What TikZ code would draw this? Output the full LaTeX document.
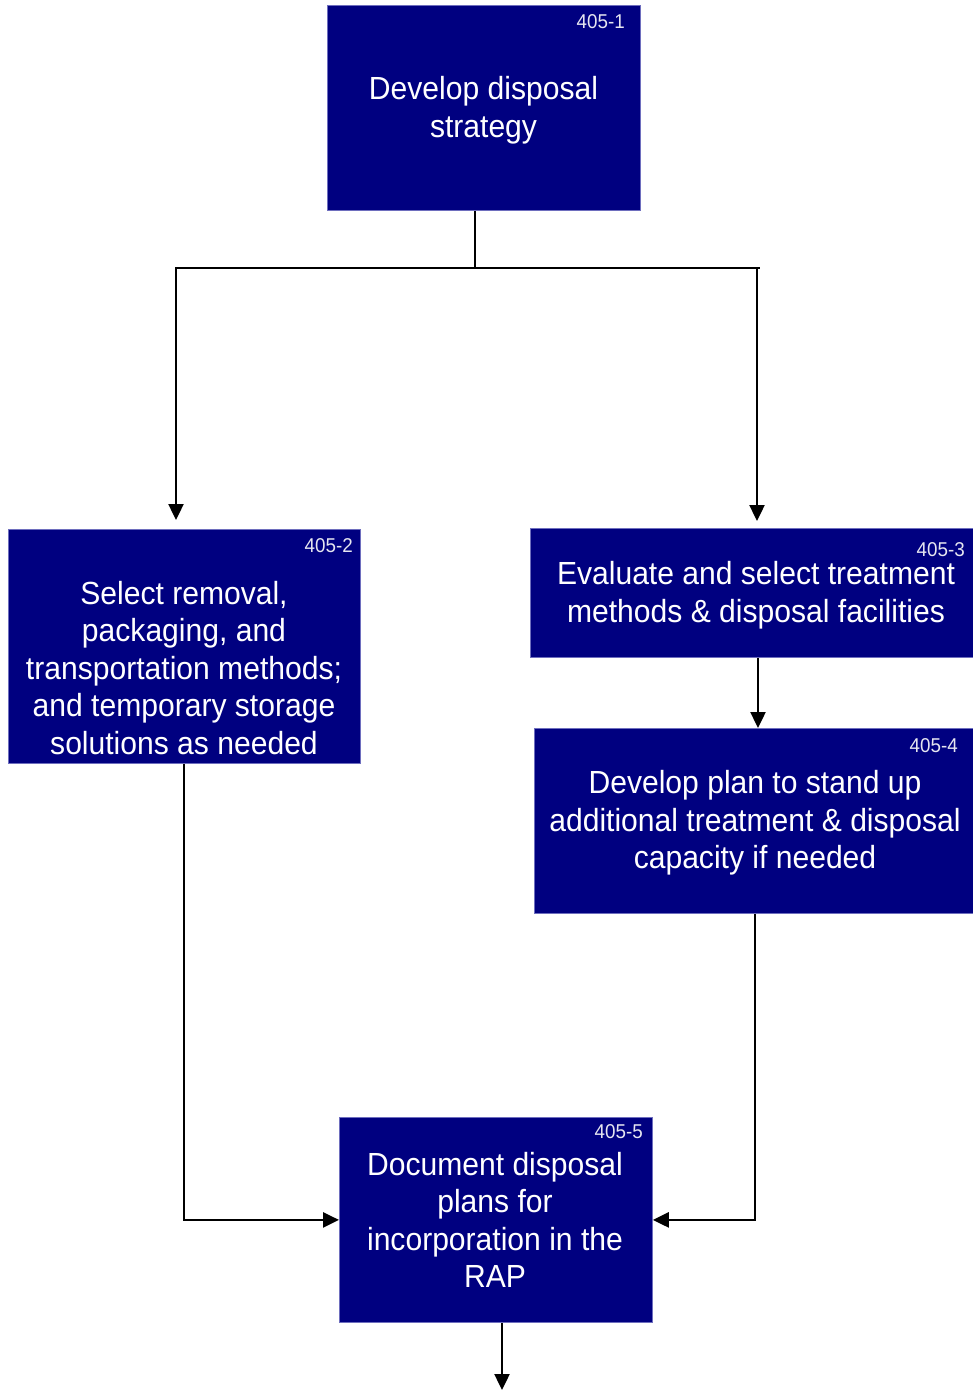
\documentclass[tikz,border=0pt]{standalone}
\usepackage{fontspec}
\setmainfont{Liberation Sans}[FakeStretch=0.94]
\usetikzlibrary{arrows.meta}
\definecolor{boxnavy}{RGB}{0,0,128}
\definecolor{boxedge}{RGB}{110,110,190}
\definecolor{tagwhite}{RGB}{230,230,240}
\begin{document}
\begin{tikzpicture}[x=1pt,y=-1pt,
  stepbox/.style={rectangle, fill=boxnavy, draw=boxedge, line width=0.8pt, inner sep=0pt, anchor=north west},
  boxtext/.style={text=white, align=center, inner sep=0pt, font=\fontsize{32}{37.5}\selectfont},
  tag/.style={text=tagwhite, inner sep=0pt, anchor=east, font=\fontsize{20}{22}\selectfont},
  link/.style={draw=black, line width=2.4pt},
  arr/.style={link, -{Triangle[width=15pt,length=16pt]}}]
\useasboundingbox (0,0) rectangle (973,1392);
\fill[white] (0,0) rectangle (973,1392);

% process boxes
\node[stepbox, minimum width=313pt, minimum height=205pt] (b1) at (327,5) {};
\node[stepbox, minimum width=352pt, minimum height=234pt] (b2) at (8,529) {};
\node[stepbox, minimum width=445pt, minimum height=129pt] (b3) at (530,528) {};
\node[stepbox, minimum width=441pt, minimum height=185pt] (b4) at (534,728) {};
\node[stepbox, minimum width=313pt, minimum height=205pt] (b5) at (339,1117) {};

% step numbers
\node[tag] (n1) at (625,22) {405-1};
\node[tag] (n2) at (353,546) {405-2};
\node[tag] (n3) at (965,550) {405-3};
\node[tag] (n4) at (958,746) {405-4};
\node[tag] (n5) at (643,1132) {405-5};

% box captions
\node[boxtext] (t1) at (483.5,110) {Develop disposal\\strategy};
\node[boxtext] (t2) at (184,668) {Select removal,\\packaging, and\\transportation methods;\\and temporary storage\\solutions as needed};
\node[boxtext] (t3) at (756,595) {Evaluate and select treatment\\methods \& disposal facilities};
\node[boxtext] (t4) at (755,823) {Develop plan to stand up\\additional treatment \& disposal\\capacity if needed};
\node[boxtext] (t5) at (495,1220) {Document disposal\\plans for\\incorporation in the\\RAP};

% branching from the first step
\coordinate (split) at (475,268);
\coordinate (jl) at (176,268);
\coordinate (jr) at (757,268);
\draw[link] (b1.south -| split) -- (split);
\draw[link] ([xshift=-1pt]jl) -- ([xshift=3pt]jr);
\draw[arr, shorten >=9pt] (jl) -- (jl |- b2.north);
\draw[arr, shorten >=7pt] (jr) -- (jr |- b3.north);

% right-hand chain
\coordinate (mid) at (758,660);
\draw[arr] (b3.south -| mid) -- (b4.north -| mid);

% merging into the last step
\coordinate (lx) at (184,900);
\coordinate (rx) at (755,900);
\draw[arr] (b2.south -| lx) |- (b5.west);
\draw[arr] (b4.south -| rx) |- (b5.east);

% outgoing arrow
\coordinate (out) at (502,1390);
\draw[arr] (b5.south -| out) -- (out);
\end{tikzpicture}
\end{document}
